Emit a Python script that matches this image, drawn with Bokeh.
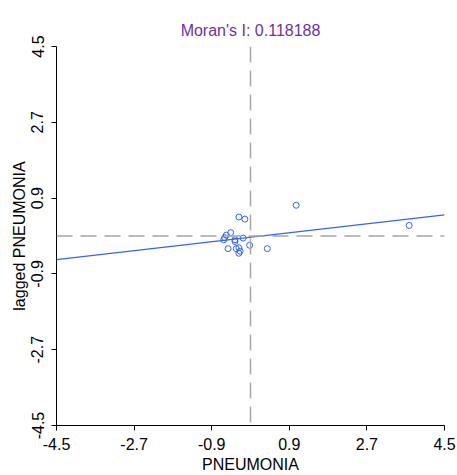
from bokeh.plotting import figure
from bokeh.models import Span, Range1d, FixedTicker
from bokeh.embed import file_html
from bokeh.resources import INLINE

# Standardized PNEUMONIA values (x) and their spatial lags (y)
pneumonia = [1.06, -0.27, -0.13, 3.68, -0.46, -0.56, -0.60, -0.62, -0.17,
             -0.36, -0.36, -0.02, -0.52, 0.39, -0.33, -0.27, -0.24, -0.27]
lagged = [0.73, 0.45, 0.40, 0.25, 0.08, 0.02, -0.04, -0.09, -0.05,
          -0.09, -0.13, -0.22, -0.30, -0.30, -0.30, -0.28, -0.36, -0.41]

morans_i = 0.118188
intercept = -0.03
ticks = [-4.5, -2.7, -0.9, 0.9, 2.7, 4.5]
tick_labels = ["-4.5", "-2.7", "-0.9", "0.9", "2.7", "4.5"]
lo, hi = -4.5, 4.5

FONT = "Liberation Sans"
W, H = 457, 475

p = figure(width=W, height=H, output_backend="svg", toolbar_location=None,
           x_range=Range1d(lo, hi), y_range=Range1d(lo, hi),
           min_border_left=56, min_border_right=13, min_border_top=46,
           min_border_bottom=45)

p.title.text = "Moran's I: " + str(morans_i)
p.title.align = "center"
p.title.text_font = FONT
p.title.text_font_size = "16px"
p.title.text_font_style = "normal"
p.title.text_color = "#70309f"
p.title.standoff = 15

p.outline_line_color = None
p.xgrid.visible = False
p.ygrid.visible = False
p.background_fill_color = "white"
p.border_fill_color = "white"

for ax in (p.xaxis[0], p.yaxis[0]):
    ax.ticker = FixedTicker(ticks=ticks)
    ax.major_label_overrides = {t: l for t, l in zip(ticks, tick_labels)}
    ax.minor_tick_line_color = None
    ax.major_tick_in = 0
    ax.major_tick_out = 5
    ax.axis_line_color = "black"
    ax.major_tick_line_color = "black"
    ax.major_label_text_font = FONT
    ax.major_label_text_font_size = "16px"
    ax.major_label_text_color = "black"
    ax.axis_label_text_font = FONT
    ax.axis_label_text_font_size = "16px"
    ax.axis_label_text_font_style = "normal"
    ax.axis_label_text_color = "black"

p.xaxis.axis_label = "PNEUMONIA"
p.yaxis.axis_label = "lagged PNEUMONIA"
p.yaxis.major_label_orientation = "vertical"
p.xaxis.major_label_standoff = 7
p.xaxis.axis_label_standoff = 3
p.yaxis.major_label_standoff = 8
p.yaxis.axis_label_standoff = 1

p.add_layout(Span(location=0, dimension="height", line_color="#a6a6a6",
                  line_dash="16 8", line_width=1.5))
p.add_layout(Span(location=0, dimension="width", line_color="#a6a6a6",
                  line_dash="16 8", line_width=1.5))

xs = [lo, hi]
ys = [intercept + morans_i * v for v in xs]
p.line(xs, ys, line_color="#3366ee", line_width=1.2)

p.scatter(pneumonia, lagged, marker="circle", size=6, fill_color=None,
          line_color="#2f66f0", line_width=1)

open("out.html", "w").write(file_html(p, INLINE))
